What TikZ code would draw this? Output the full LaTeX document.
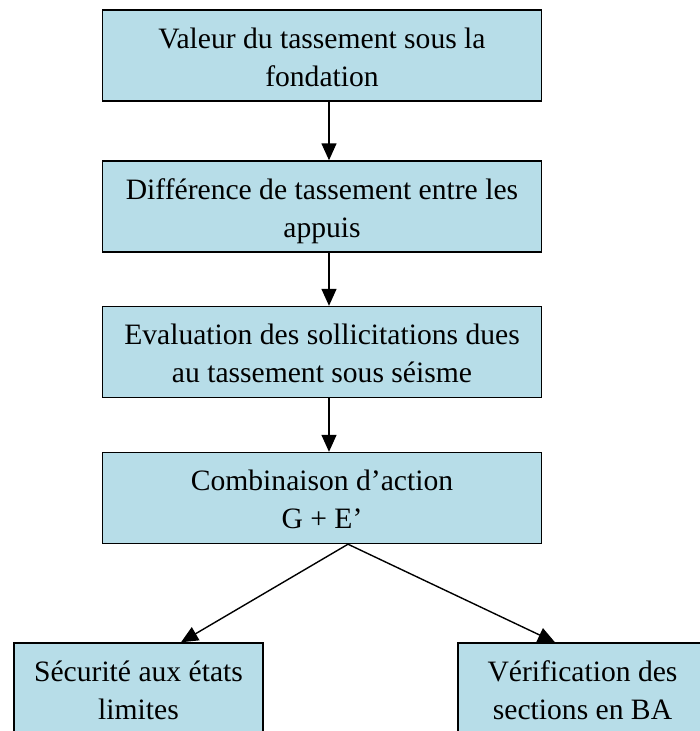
\documentclass[tikz,border=0pt]{standalone}
\usepackage{fontspec}
\setmainfont{Liberation Serif}
\usetikzlibrary{arrows.meta}
\definecolor{boxBlue}{RGB}{183,221,232}

\begin{document}
\begin{tikzpicture}[
    x=1pt, y=-1pt,
    stepBox/.style={
        draw,
        line width=1.4pt,
        fill=boxBlue,
        align=center,
        inner sep=0pt,
        text height=69pt,
        text depth=8pt,
        font=\fontsize{29.6}{38}\selectfont
    },
    mainBox/.style={stepBox, minimum width=439, minimum height=91},
    endBox/.style={stepBox, minimum width=249, minimum height=92},
    flowArrow/.style={
        line width=1.4pt,
        -{Triangle[width=15pt,length=17pt]}
    }
]

% Page
\useasboundingbox (0,0) rectangle (700,731);
\clip (0,0) rectangle (700,731);

% Geometry
\def\colX{322}
\def\downShift{7}

% Main chain
\node[mainBox] (valeur) at (\colX,55.5)
    {Valeur du tassement sous la\\fondation};
\node[mainBox] (difference) at (\colX,206.5)
    {Différence de tassement entre les\\appuis};
\node[mainBox] (evaluation) at (\colX,352)
    {Evaluation des sollicitations dues\\au tassement sous séisme};
\node[mainBox] (combinaison) at (\colX,498)
    {Combinaison d’action\\G + E’};

% Results
\node[endBox] (securite) at (138.5,689)
    {Sécurité aux états\\limites};
\node[endBox] (verification) at (582.5,689)
    {Vérification des\\sections en BA};

% Vertical arrows
\draw[flowArrow]
    ([xshift=\downShift]valeur.south) -- ([xshift=\downShift]difference.north);
\draw[flowArrow]
    ([xshift=\downShift]difference.south) -- ([xshift=\downShift]evaluation.north);
\draw[flowArrow]
    ([xshift=\downShift]evaluation.south) -- ([xshift=\downShift]combinaison.north);

% Split arrows
\draw[flowArrow]
    ([xshift=26]combinaison.south) -- ([xshift=42.5]securite.north);
\draw[flowArrow]
    ([xshift=26]combinaison.south) -- ([xshift=-27.5]verification.north);

\end{tikzpicture}
\end{document}
